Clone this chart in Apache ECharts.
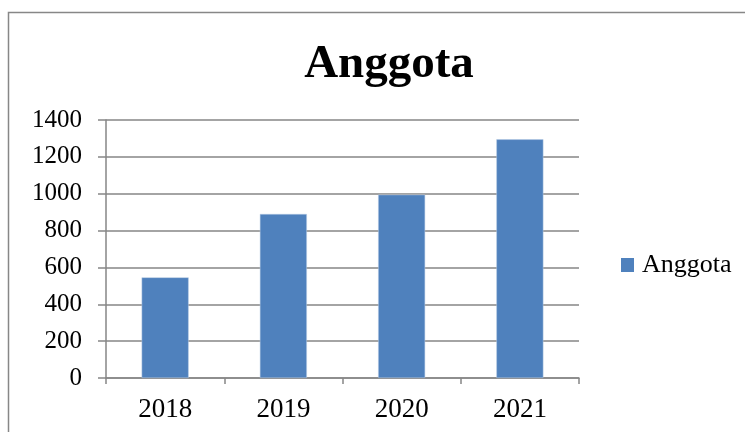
<!DOCTYPE html>
<html>
<head>
<meta charset="utf-8">
<script src="https://cdn.jsdelivr.net/npm/echarts@6/dist/echarts.min.js"></script>
<style>html,body{margin:0;padding:0;background:#fff}#c{width:745px;height:432px}</style>
</head>
<body>
<div id="c"></div>
<script>
const categories = ['2018', '2019', '2020', '2021'];
const seriesName = 'Anggota';
const values = [546, 890, 995, 1295];
const yTicks = { min: 0, max: 1400, interval: 200 };

const FONT = '"Liberation Serif", "Times New Roman", serif';
const chart = echarts.init(document.getElementById('c'), null, { renderer: 'canvas' });
chart.setOption({
  animation: false,
  backgroundColor: '#ffffff',
  title: {
    text: 'Anggota',
    left: 384, top: 36, textAlign: 'center',
    textStyle: { fontFamily: FONT, fontSize: 47, fontWeight: 'bold', color: '#000' }
  },
  graphic: [{
    type: 'rect', silent: true,
    shape: { x: 8.5, y: 12.5, width: 900, height: 600 },
    style: { fill: null, stroke: '#878787', lineWidth: 1.5 }
  }],
  legend: {
    data: [seriesName], left: 621, top: 252, icon: 'rect', padding: 0,
    itemWidth: 13, itemHeight: 14,
    itemStyle: { borderWidth: 0 },
    textStyle: { fontFamily: FONT, fontSize: 26, color: '#000', padding: [0, 0, 0, 3] }
  },
  grid: { left: 106, right: 166, top: 120, bottom: 54, containLabel: false },
  xAxis: {
    type: 'category', data: categories,
    axisLine: { lineStyle: { color: '#868686', width: 1.5 } },
    axisTick: { show: true, length: 6, lineStyle: { color: '#868686', width: 1.5 } },
    axisLabel: { fontFamily: FONT, fontSize: 27, color: '#000', margin: 18 }
  },
  yAxis: {
    type: 'value', min: yTicks.min, max: yTicks.max, interval: yTicks.interval,
    axisLine: { show: true, lineStyle: { color: '#868686', width: 1.5 } },
    axisTick: { show: true, length: 8, lineStyle: { color: '#868686', width: 1.5 } },
    axisLabel: { fontFamily: FONT, fontSize: 25, color: '#000', margin: 24,
      formatter: function (v) { return String(v); } },
    splitLine: { show: true, lineStyle: { color: '#868686', width: 1.5 } }
  },
  series: [{
    name: seriesName, type: 'bar', data: values,
    barWidth: 47,
    itemStyle: { color: '#4F81BD', borderColor: '#b9cde5', borderWidth: 0.5 }
  }]
});
</script>
</body>
</html>
